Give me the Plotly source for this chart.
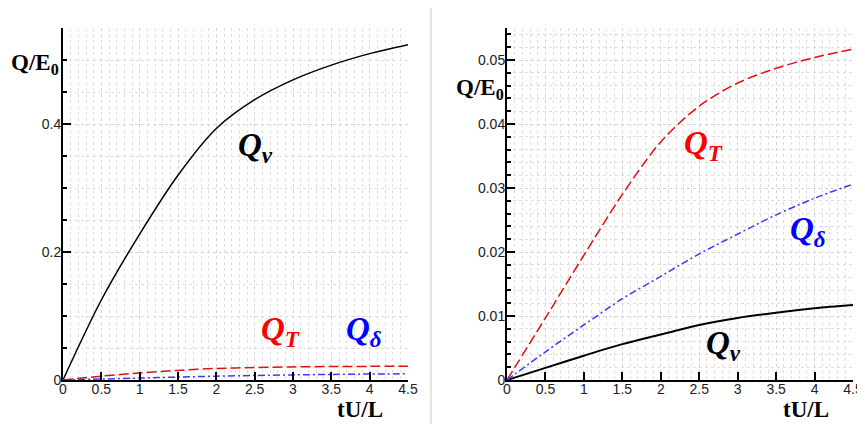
import plotly.graph_objects as go

# ---- data ----
t = [0, 0.5, 1.0, 1.5, 2.0, 2.5, 3.0, 3.5, 4.0, 4.5]

# left panel
left_Q_nu = [0, 0.125, 0.228, 0.320, 0.393, 0.438, 0.469, 0.492, 0.510, 0.524]
left_Q_T = [0, 0.006, 0.011, 0.015, 0.018, 0.0195, 0.0205, 0.021, 0.0213, 0.0215]
left_Q_delta = [0, 0.0015, 0.003, 0.0045, 0.006, 0.007, 0.008, 0.0087, 0.0093, 0.0097]

# right panel
right_Q_nu = [0, 0.0019, 0.0038, 0.0056, 0.0071, 0.0086, 0.0097, 0.0105, 0.0112, 0.0117]
right_Q_T = [0, 0.0097, 0.0195, 0.0290, 0.0372, 0.0428, 0.0464, 0.0487, 0.0504, 0.0517]
right_Q_delta = [0, 0.0044, 0.0086, 0.0127, 0.0162, 0.0197, 0.0228, 0.0258, 0.0284, 0.0306]

x_ticks = [0, 0.5, 1, 1.5, 2, 2.5, 3, 3.5, 4, 4.5]
x_tick_labels = ["0", "0.5", "1", "1.5", "2", "2.5", "3", "3.5", "4", "4.5"]
left_y_ticks = [0, 0.2, 0.4]
left_y_labels = ["0", "0.2", "0.4"]
right_y_ticks = [0, 0.01, 0.02, 0.03, 0.04, 0.05]
right_y_labels = ["0", "0.01", "0.02", "0.03", "0.04", "0.05"]

BLACK = "#000000"
RED = "#e01010"
BLUE = "#3a3aff"

# page has an 8px body margin; figure fills the rest of the 865x424 window
OFF = 8
W, H = 865 - OFF, 424 - OFF

fig = go.Figure()

def add_curves(xa, ya, nu, qt, qd, black_w):
    fig.add_trace(go.Scatter(x=t, y=nu, mode="lines", xaxis=xa, yaxis=ya,
                             line=dict(color=BLACK, width=black_w, shape="spline", smoothing=0.9),
                             showlegend=False, hoverinfo="skip"))
    fig.add_trace(go.Scatter(x=t, y=qt, mode="lines", xaxis=xa, yaxis=ya,
                             line=dict(color=RED, width=1.5, dash="10px,4px", shape="spline", smoothing=0.9),
                             showlegend=False, hoverinfo="skip"))
    fig.add_trace(go.Scatter(x=t, y=qd, mode="lines", xaxis=xa, yaxis=ya,
                             line=dict(color=BLUE, width=1.5, dash="7px,3px,2px,3px", shape="spline", smoothing=0.9),
                             showlegend=False, hoverinfo="skip"))

add_curves("x", "y", left_Q_nu, left_Q_T, left_Q_delta, 1.5)
add_curves("x2", "y2", right_Q_nu, right_Q_T, right_Q_delta, 2)

def px_x(p):
    return (p - OFF) / W

def px_y(p):
    return 1 - (p - OFF) / H

tickfont = dict(family="Liberation Sans, Arial, sans-serif", size=14, color="#222")
grid = dict(showgrid=True, gridcolor="#d4d4d4", griddash="dot", gridwidth=1)

xcommon = dict(range=[0, 4.5], tickvals=x_ticks, ticktext=x_tick_labels,
               ticks="inside", ticklen=8, tickwidth=1.5, tickcolor=BLACK,
               showline=True, linecolor=BLACK, linewidth=2, zeroline=False,
               tickfont=tickfont, ticklabelstandoff=-5, automargin=False,
               minor=dict(dtick=0.1, tick0=0, ticks="", showgrid=True,
                          gridcolor="#dedede", griddash="dot", gridwidth=1),
               **grid)

ycommon = dict(ticks="inside", ticklen=8, tickwidth=1.5, tickcolor=BLACK,
               showline=True, linecolor=BLACK, linewidth=2, zeroline=False,
               tickfont=tickfont, ticklabelstandoff=-3, automargin=False, **grid)

fig.update_layout(
    template="none",
    width=W, height=H,
    margin=dict(l=0, r=0, t=0, b=0, autoexpand=False),
    paper_bgcolor="white", plot_bgcolor="white",
    xaxis=dict(domain=[px_x(63), px_x(408)], anchor="y", **xcommon),
    yaxis=dict(domain=[px_y(380), px_y(28)], anchor="x", range=[0, 0.55],
               tickvals=left_y_ticks, ticktext=left_y_labels,
               minor=dict(dtick=0.05, tick0=0, ticks="inside", ticklen=4, tickcolor=BLACK,
                          showgrid=True, gridcolor="#dedede", griddash="dot", gridwidth=1),
               **ycommon),
    xaxis2=dict(domain=[px_x(507), px_x(853)], anchor="y2", **xcommon),
    yaxis2=dict(domain=[px_y(380), px_y(28)], anchor="x2", range=[0, 0.055],
                tickvals=right_y_ticks, ticktext=right_y_labels,
                minor=dict(dtick=0.002, tick0=0, ticks="inside", ticklen=4, tickcolor=BLACK,
                           showgrid=True, gridcolor="#dedede", griddash="dot", gridwidth=1),
                **ycommon),
)

# separator line between panels
fig.add_shape(type="line", xref="paper", yref="paper",
              x0=px_x(431), x1=px_x(431), y0=0, y1=1,
              line=dict(color="#dcdcdc", width=1.5))

title_font = dict(family="Liberation Serif, Times New Roman, serif", size=23, color=BLACK)
label_font = dict(family="Liberation Serif, Times New Roman, serif", size=33)

def ann(text, cx, cy, font):
    fig.add_annotation(text=text, xref="paper", yref="paper",
                       x=px_x(cx), y=px_y(cy), xanchor="center", yanchor="middle",
                       showarrow=False, font=font)

# axis titles
ann("<b>Q/E<sub>0</sub></b>", 35, 64, title_font)
ann("<b>Q/E<sub>0</sub></b>", 480, 89, title_font)
ann("<b>tU/L</b>", 360, 409, title_font)
ann("<b>tU/L</b>", 806, 409, title_font)

# curve labels
ann("<b><i>Q</i></b><sub><b><i>ν</i></b></sub>", 256, 147, dict(label_font, color=BLACK))
ann("<b><i>Q</i></b><sub><b><i>T</i></b></sub>", 280, 331, dict(label_font, color="#ff0000"))
ann("<b><i>Q</i></b><sub><b><i>δ</i></b></sub>", 364, 331, dict(label_font, color="#0000ff"))
ann("<b><i>Q</i></b><sub><b><i>T</i></b></sub>", 703, 145, dict(label_font, color="#ff0000"))
ann("<b><i>Q</i></b><sub><b><i>δ</i></b></sub>", 808, 231, dict(label_font, color="#0000ff"))
ann("<b><i>Q</i></b><sub><b><i>ν</i></b></sub>", 723, 345, dict(label_font, color=BLACK))

fig.write_html("out.html")
